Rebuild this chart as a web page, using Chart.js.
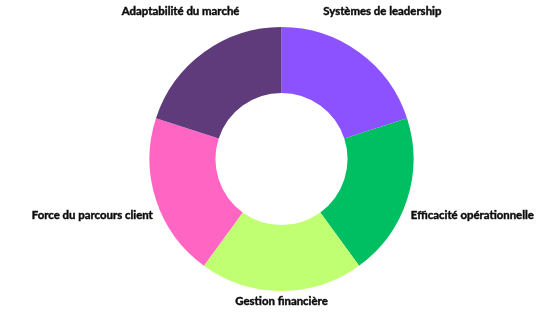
<!DOCTYPE html>
<html>
<head>
<meta charset="utf-8">
<script src="https://cdn.jsdelivr.net/npm/chart.js@4"></script>
<style>
    html, body { margin: 0; padding: 0; background: #fff; }
    #wrap { width: 539px; height: 328px; }
</style>
</head>
<body>
<div id="wrap"><canvas id="donut" width="539" height="328"></canvas></div>
<script>
const categories = [
    'Systèmes de leadership',
    'Efficacité opérationnelle',
    'Gestion financière',
    'Force du parcours client',
    'Adaptabilité du marché'
];
const values = [20, 20, 20, 20, 20];
const colors = ['#8C52FF', '#00BF63', '#C1FF72', '#FF66C4', '#5F3B7C'];

// draws the category names around the ring
const outsideLabels = {
    id: 'outsideLabels',
    afterDraw(chart) {
        const ctx = chart.ctx;
        const meta = chart.getDatasetMeta(0);
        ctx.save();
        ctx.font = 'bold 11.4px Lato, "Open Sans", sans-serif';
        ctx.fillStyle = '#0d0d0d';
        ctx.strokeStyle = '#0d0d0d';
        ctx.lineWidth = 0.45;
        ctx.textBaseline = 'middle';
        meta.data.forEach((arc, i) => {
            const p = arc.getProps(['x', 'y', 'startAngle', 'endAngle', 'outerRadius'], true);
            const a = (p.startAngle + p.endAngle) / 2;
            const c = Math.cos(a), s = Math.sin(a);
            const r = p.outerRadius;
            let x, y;
            if (Math.abs(c) > 0.9) {
                ctx.textAlign = c > 0 ? 'left' : 'right';
                x = p.x + (c > 0 ? 0.98 : -0.975) * r;
                y = p.y + s * r * 1.37;
            } else if (s > 0.9) {
                ctx.textAlign = 'center';
                x = p.x;
                y = p.y + r * 1.075;
            } else {
                ctx.textAlign = 'center';
                x = p.x + c * r * 1.3;
                y = p.y - r * 1.12;
            }
            ctx.fillText(categories[i], x, y);
            ctx.strokeText(categories[i], x, y);
        });
        ctx.restore();
    }
};

new Chart(document.getElementById('donut'), {
    type: 'doughnut',
    data: {
        labels: categories,
        datasets: [{
            data: values,
            backgroundColor: colors,
            borderWidth: 0
        }]
    },
    options: {
        responsive: false,
        animation: false,
        cutout: '50%',
        layout: { padding: { top: 27, bottom: 37, left: 24, right: 0 } },
        plugins: {
            legend: { display: false },
            tooltip: { enabled: false }
        }
    },
    plugins: [outsideLabels]
});
</script>
</body>
</html>
